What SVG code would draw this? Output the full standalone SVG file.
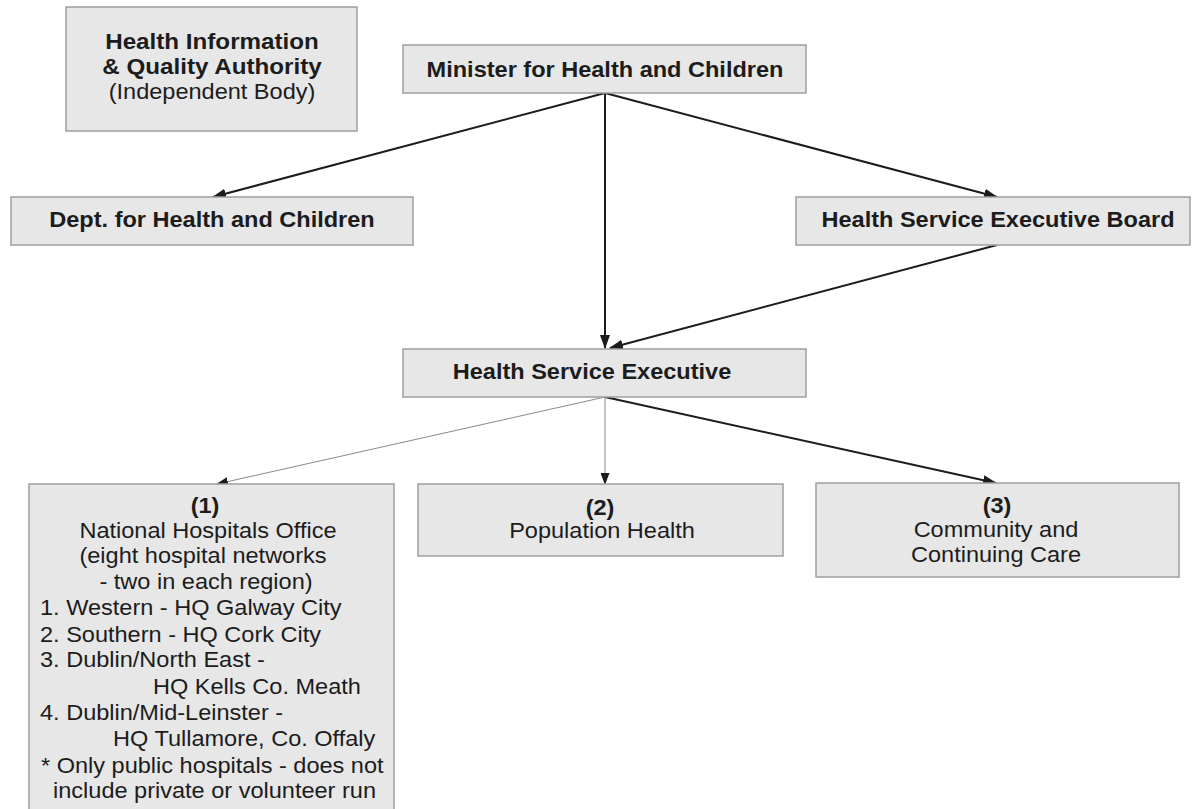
<svg xmlns="http://www.w3.org/2000/svg" width="1192" height="809" viewBox="0 0 1192 809">
<style>
.box{fill:#e7e7e7;stroke:#9f9f9f;stroke-width:1.5}
.t{font-family:"Liberation Sans",Arial,sans-serif;font-size:22px;fill:#1c1c1c}
.b{font-weight:bold}
.m{text-anchor:middle}
.thick{stroke:#1c1c1c;stroke-width:2;fill:none}
.thin{stroke:#8a8a8a;stroke-width:1;fill:none}
</style>
<defs>
<marker id="ah" markerUnits="userSpaceOnUse" markerWidth="14" markerHeight="10" refX="13" refY="5" orient="auto">
<path d="M0,0 L14,5 L0,10 Z" fill="#1c1c1c"/>
</marker>
<marker id="ahs" markerUnits="userSpaceOnUse" markerWidth="12" markerHeight="9" refX="11" refY="4.5" orient="auto">
<path d="M0,0 L12,4.5 L0,9 Z" fill="#1c1c1c"/>
</marker>
</defs>
<rect width="1192" height="809" fill="#ffffff"/>

<g id="connectors">
<line class="thick" x1="605" y1="93" x2="213" y2="197" marker-end="url(#ah)"/>
<line class="thick" x1="605" y1="93" x2="997" y2="197" marker-end="url(#ah)"/>
<line class="thick" x1="605" y1="93" x2="605" y2="348" marker-end="url(#ah)"/>
<line class="thick" x1="997" y1="245" x2="610" y2="348" marker-end="url(#ah)"/>
<line class="thin" x1="605" y1="397" x2="217" y2="484" marker-end="url(#ahs)"/>
<line class="thin" x1="605" y1="397" x2="605" y2="484" marker-end="url(#ahs)"/>
<line class="thick" x1="605" y1="397" x2="996" y2="483" marker-end="url(#ah)"/>
</g>

<g id="hiqa">
<rect class="box" x="66" y="7" width="291" height="124"/>
<g transform="translate(212,49) scale(1.1,1)"><text class="t b m" font-size="21">Health Information</text></g>
<g transform="translate(212,74) scale(1.1,1)"><text class="t b m" font-size="21">&amp; Quality Authority</text></g>
<g transform="translate(212,99) scale(1.07,1)"><text class="t m">(Independent Body)</text></g>
</g>

<g id="minister">
<rect class="box" x="403" y="45" width="403" height="48"/>
<g transform="translate(605,77) scale(1.07,1)"><text class="t b m">Minister for Health and Children</text></g>
</g>

<g id="dept">
<rect class="box" x="11" y="197" width="402" height="48"/>
<g transform="translate(212,227) scale(1.07,1)"><text class="t b m">Dept. for Health and Children</text></g>
</g>

<g id="hseboard">
<rect class="box" x="796" y="197" width="394" height="48"/>
<g transform="translate(998,227) scale(1.07,1)"><text class="t b m">Health Service Executive Board</text></g>
</g>

<g id="hse">
<rect class="box" x="403" y="349" width="403" height="48"/>
<g transform="translate(592,379) scale(1.07,1)"><text class="t b m">Health Service Executive</text></g>
</g>

<g id="nho">
<rect class="box" x="29" y="484" width="365" height="330"/>
<g transform="translate(205,513) scale(1.07,1)"><text class="t b m">(1)</text></g>
<g transform="translate(208,538) scale(1.07,1)"><text class="t m">National Hospitals Office</text></g>
<g transform="translate(203,563) scale(1.07,1)"><text class="t m">(eight hospital networks</text></g>
<g transform="translate(206,589) scale(1.07,1)"><text class="t m">- two in each region)</text></g>
<g transform="translate(40,615) scale(1.07,1)"><text class="t">1. Western - HQ Galway City</text></g>
<g transform="translate(40,642) scale(1.07,1)"><text class="t">2. Southern - HQ Cork City</text></g>
<g transform="translate(40,667) scale(1.07,1)"><text class="t">3. Dublin/North East -</text></g>
<g transform="translate(153,694) scale(1.07,1)"><text class="t">HQ Kells Co. Meath</text></g>
<g transform="translate(40,720) scale(1.07,1)"><text class="t">4. Dublin/Mid-Leinster -</text></g>
<g transform="translate(113,746) scale(1.07,1)"><text class="t">HQ Tullamore, Co. Offaly</text></g>
<g transform="translate(41,773) scale(1.07,1)"><text class="t">* Only public hospitals - does not</text></g>
<g transform="translate(53,798) scale(1.07,1)"><text class="t">include private or volunteer run</text></g>
</g>

<g id="pophealth">
<rect class="box" x="418" y="484" width="365" height="72"/>
<g transform="translate(600,515) scale(1.07,1)"><text class="t b m">(2)</text></g>
<g transform="translate(602,538) scale(1.07,1)"><text class="t m">Population Health</text></g>
</g>

<g id="community">
<rect class="box" x="816" y="483" width="363" height="94"/>
<g transform="translate(997,513) scale(1.07,1)"><text class="t b m">(3)</text></g>
<g transform="translate(996,537) scale(1.07,1)"><text class="t m">Community and</text></g>
<g transform="translate(996,562) scale(1.07,1)"><text class="t m">Continuing Care</text></g>
</g>
</svg>
